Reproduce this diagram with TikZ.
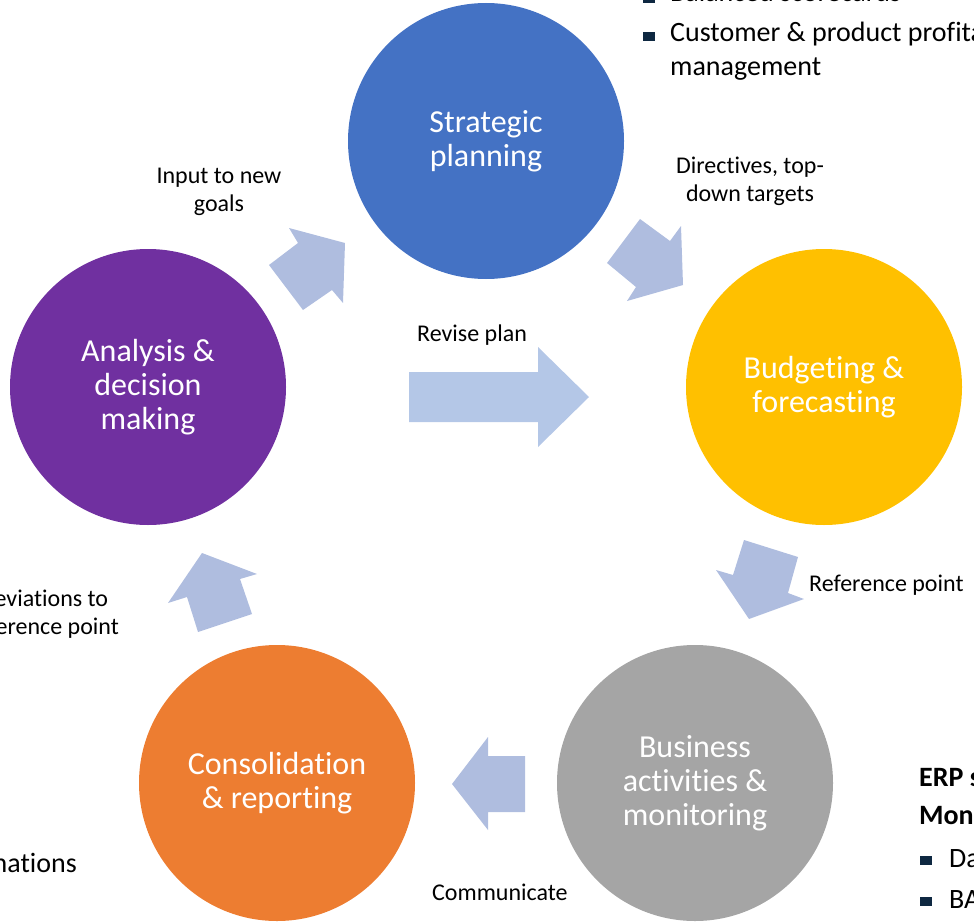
\documentclass[tikz,border=0pt]{standalone}
\usepackage{fontspec}
\setmainfont{Carlito}[Ligatures=NoCommon]
\usepackage{tikz}
\usetikzlibrary{positioning}

\definecolor{stratblue}{HTML}{4472C4}
\definecolor{budgetyellow}{HTML}{FFC000}
\definecolor{bizgrey}{HTML}{A5A5A5}
\definecolor{consorange}{HTML}{ED7D31}
\definecolor{analysispurple}{HTML}{7030A0}
\definecolor{flowblue}{HTML}{AFBDDF}
\definecolor{reviseblue}{HTML}{B4C7E7}
\definecolor{bulletnavy}{HTML}{0E2841}

\begin{document}
\begin{tikzpicture}[x=1pt, y=-1pt,
      phase/.style={circle, minimum size=276pt, inner sep=0pt, text=white,
        align=center, font=\fontsize{32}{34}\selectfont},
      lbl/.style={align=center, font=\fontsize{24}{28}\selectfont},
      flow/.style={fill=flowblue},
      bulletbox/.style={fill=bulletnavy, minimum width=12pt, minimum height=9pt, inner sep=0pt},
      item/.style={anchor=base west, inner sep=0pt, font=\fontsize{28}{34}\selectfont}]
    \useasboundingbox (0,0) rectangle (974,923);
    \clip (0,0) rectangle (974,923);

    % the five phases
    \node (strategic) [phase, fill=stratblue] at (486,141) {Strategic\\planning};
    \node (budgeting) [phase, fill=budgetyellow] at (824,387) {Budgeting \&\\forecasting};
    \node (business) [phase, fill=bizgrey] at (695,783) {Business\\activities \&\\monitoring};
    \node (consolidation) [phase, fill=consorange] at (277,783) {Consolidation\\\& reporting};
    \node (analysis) [phase, fill=analysispurple] at (148,387) {Analysis \&\\decision\\making};

    % block arrows
    \fill[flow] (289,228) -- (345,243) -- (343,303) -- (332,290) -- (303,310) -- (269,265) -- (298,243) -- cycle;
    \fill[flow] (640,219) -- (670,241) -- (681,226) -- (683,285) -- (627,301) -- (636,287) -- (607,263) -- cycle;
    \fill[flow] (744,540) -- (798,557) -- (788,593) -- (804,599) -- (749,619) -- (716,570) -- (733,575) -- cycle;
    \fill[flow] (488,737) -- (488,756) -- (525,756) -- (525,812) -- (488,812) -- (488,830) -- (452,784) -- cycle;
    \fill[flow] (202,553) -- (257,574) -- (240,579) -- (252,614) -- (198,632) -- (187,597) -- (168,603) -- cycle;
    \fill[reviseblue] (409,372) -- (538,372) -- (538,347) -- (589,397) -- (538,447) -- (538,422) -- (409,422) -- cycle;

    % arrow labels
    \node (goals) [lbl] at (219,192) {Input to new\\goals};
    \node (directives) [lbl] at (750,181) {Directives, top-\\down targets};
    \node (revise) [lbl] at (472,335) {Revise plan};
    \node (reference) [lbl, anchor=west, inner sep=0pt] at (809,585) {Reference point};
    \node (deviations) [lbl] at (44,614) {Deviations to\\reference point};
    \node (communicate) [lbl, anchor=west, inner sep=0pt] at (432,892) {Communicate};

    % side lists
    \node (sq1) [bulletbox] at (649,-1) {};
    \node (scorecards) [item] at (670,2) {Balanced scorecards};
    \node (sq2) [bulletbox] at (649,37) {};
    \node (profit) [item] at (670,42) {Customer \& product profitability};
    \node (profit2) [item] at (670,76) {management};
    \node (elim) [item, anchor=base east] at (77,872) {Eliminations};
    \node (erp) [item, font=\fontsize{28}{34}\selectfont\bfseries] at (919,786) {ERP system};
    \node (mon) [item, font=\fontsize{28}{34}\selectfont\bfseries] at (919,824) {Monitoring};
    \node (sq3) [bulletbox] at (926,860) {};
    \node (data) [item] at (949,867) {Data};
    \node (sq4) [bulletbox] at (926,901) {};
    \node (badi) [item] at (949,908) {BAdIs};
\end{tikzpicture}
\end{document}
